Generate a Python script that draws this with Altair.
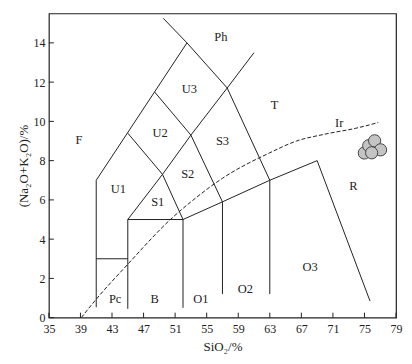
import altair as alt
import pandas as pd

# Boundary polylines of the TAS diagram (SiO2 %, Na2O+K2O %)
bound_names = ["outer_left", "upper_right", "pc_top", "basalt", "diag_up",
               "diag_down", "lower_chain", "o2_s2", "ph"]
bound_x = [[41, 41, 52.5], [52.5, 57.6, 63, 63], [41, 45], [45, 45, 52, 52],
           [45, 49.4, 53, 57.6, 61], [45, 49.4, 52], [52, 57, 63, 69, 75.7],
           [57, 57, 53, 48.4], [52.5, 49.5]]
bound_y = [[0.53, 7, 14], [14, 11.7, 7, 1.2], [3, 3], [0.45, 5, 5, 0.5],
           [5, 7.3, 9.3, 11.7, 13.5], [9.4, 7.3, 5], [5, 5.9, 7, 8, 0.85],
           [1.2, 5.9, 9.3, 11.5], [14, 15.25]]

# Irvine-Baragar alkaline / subalkaline dashed divider
ir_x = [39.1, 41, 45, 50.4, 53, 57, 63, 66.4, 70, 73.9, 76.75]
ir_y = [0, 0.94, 2.72, 5.0, 5.9, 7.1, 8.4, 9.0, 9.35, 9.65, 9.94]

# Samples
sample_x = [74.98, 75.54, 76.29, 77.04, 75.91]
sample_y = [8.39, 8.76, 9.01, 8.55, 8.40]

# Field labels
label_text = ["F", "Ph", "U3", "U2", "U1", "S1", "S2", "S3", "T", "Ir", "R",
              "Pc", "B", "O1", "O2", "O3"]
label_x = [38.8, 56.8, 52.8, 49.1, 43.8, 48.8, 52.6, 57.0, 63.6, 71.8, 73.6,
           43.4, 48.4, 54.25, 59.9, 68.1]
label_y = [9.06, 14.3, 11.65, 9.4, 6.57, 5.88, 7.32, 9.0, 10.84, 9.94, 6.73,
           0.97, 0.94, 0.94, 1.48, 2.58]

x_ticks = [35, 39, 43, 47, 51, 55, 59, 63, 67, 71, 75, 79]
y_ticks = [0, 2, 4, 6, 8, 10, 12, 14]

W, H = 348, 305
FONT = "Liberation Serif"
INK = "#222222"

rows = []
for name, xs_, ys_ in zip(bound_names, bound_x, bound_y):
    for i, (xv, yv) in enumerate(zip(xs_, ys_)):
        rows.append({"seg": name, "o": i, "x": xv, "y": yv})
bounds = pd.DataFrame(rows)
ir = pd.DataFrame({"x": ir_x, "y": ir_y, "o": range(len(ir_x))})
samples = pd.DataFrame({"x": sample_x, "y": sample_y})
labels = pd.DataFrame({"t": label_text, "x": label_x, "y": label_y})
xt = pd.DataFrame({"x": x_ticks})
yt = pd.DataFrame({"y": y_ticks})

xs = alt.Scale(domain=[35, 79], nice=False, zero=False)
ys = alt.Scale(domain=[0, 15.5], nice=False, zero=True)

X = alt.X("x:Q", scale=xs, axis=alt.Axis(values=x_ticks, title="SiO₂/%",
          tickSize=0, labelPadding=6, titlePadding=6, grid=False, domain=False,
          labelOverlap=False, labelFlush=False, labelBound=False))
Y = alt.Y("y:Q", scale=ys, axis=alt.Axis(values=y_ticks, title="(Na₂O+K₂O)/%",
          tickSize=0, labelPadding=4, titlePadding=2, grid=False, domain=False,
          labelOverlap=False, labelFlush=False, labelBound=False))

lines = alt.Chart(bounds).mark_line(color=INK, strokeWidth=1).encode(
    x=X, y=Y, detail="seg:N", order="o:Q")

irline = alt.Chart(ir).mark_line(color=INK, strokeWidth=1, strokeDash=[4, 2],
                                 interpolate="monotone").encode(
    x=X, y=Y, order="o:Q")

xtick = alt.Chart(xt).mark_rule(color=INK, strokeWidth=1).encode(
    x=X, y=alt.value(H), y2=alt.value(H - 5))
ytick = alt.Chart(yt).mark_rule(color=INK, strokeWidth=1).encode(
    y=Y, x=alt.value(0), x2=alt.value(5))

pts = alt.Chart(samples).mark_circle(size=150, opacity=1, color="#c4c4c4",
                                     stroke="#444444", strokeWidth=1).encode(
    x=X, y=Y)

txt = alt.Chart(labels).mark_text(font=FONT, fontSize=12.5, color=INK).encode(
    x=X, y=Y, text="t:N")

chart = alt.layer(lines, irline, xtick, ytick, txt, pts).properties(
    width=W, height=H,
    autosize=alt.AutoSizeParams(type="none"),
    padding={"left": 41, "top": 5, "right": 8, "bottom": 40},
    background="white",
).configure_view(stroke=INK, strokeWidth=1.2).configure_axis(
    labelFont=FONT, titleFont=FONT, labelFontSize=12, titleFontSize=13,
    labelColor=INK, titleColor=INK, titleFontWeight="normal",
    labelOverlap=False, labelFlush=False, labelBound=False,
)

chart.save("out.html", embed_options={"renderer": "svg", "actions": False})
